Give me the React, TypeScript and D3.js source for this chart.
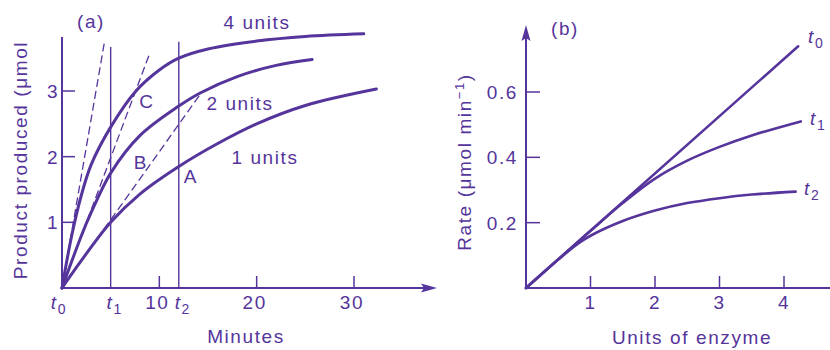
import * as d3 from "d3";

// panel (a): product vs time, three enzyme amounts
const minutes4 = [0, 1, 2, 3, 5, 7.6, 10, 12, 15, 20, 25, 31];
const product4 = [0, 0.8, 1.42, 1.88, 2.45, 3.0, 3.32, 3.5, 3.64, 3.76, 3.83, 3.87];
const minutes2 = [0, 2, 3, 5, 8, 12, 14.2, 18, 22, 25.7];
const product2 = [0, 0.8, 1.15, 1.75, 2.32, 2.77, 2.97, 3.22, 3.39, 3.48];
const minutes1 = [0, 2, 5, 8, 12, 16, 20, 25, 32.3];
const product1 = [0, 0.42, 1.0, 1.43, 1.85, 2.2, 2.5, 2.78, 3.03];

// initial-rate tangents (end points, all start at origin)
const tangentEndMin = [14.4, 9.0, 4.4];
const tangentEndVal = [2.99, 3.57, 3.78];

const timeMarks = [
  { label: "1", t: 5, top: 3.67 },
  { label: "2", t: 12, top: 3.75 },
];
const xTicksA = [10, 20, 30];
const yTicksA = [1, 2, 3];

// panel (b): rate vs units of enzyme
const unitsT0 = [0, 4.22];
const rateT0 = [0, 0.74];
const unitsT1 = [0, 1, 1.5, 2, 2.5, 3, 3.5, 4.26];
const rateT1 = [0, 0.175, 0.26, 0.335, 0.39, 0.432, 0.467, 0.51];
const unitsT2 = [0, 0.5, 0.8, 1, 1.5, 2, 2.5, 3, 3.5, 4.18];
const rateT2 = [0, 0.087, 0.135, 0.16, 0.205, 0.237, 0.26, 0.275, 0.286, 0.295];
const xTicksB = [1, 2, 3, 4];
const yTicksB = [0.2, 0.4, 0.6];

const ink = "#55349b";
const font = "'Liberation Sans', Arial, sans-serif";

const zip = (xs: number[], ys: number[]) => xs.map((x, i) => [x, ys[i]] as [number, number]);

function Sub({ main, sub }: { main: string; sub: string }) {
  return (
    <>
      <tspan fontStyle="italic">{main}</tspan>
      <tspan fontSize={14} dy={5}>{sub}</tspan>
    </>
  );
}

export default function App() {
  const xa = d3.scaleLinear().domain([0, 30]).range([62, 354]);
  const ya = d3.scaleLinear().domain([0, 3]).range([288, 91]);
  const xb = d3.scaleLinear().domain([0, 4]).range([526, 784]);
  const yb = d3.scaleLinear().domain([0, 0.6]).range([288, 92]);

  const lineA = d3.line<[number, number]>().x((d) => xa(d[0])).y((d) => ya(d[1])).curve(d3.curveCatmullRom.alpha(0.5));
  const lineB = d3.line<[number, number]>().x((d) => xb(d[0])).y((d) => yb(d[1])).curve(d3.curveCatmullRom.alpha(0.5));
  const straight = d3.line<[number, number]>().x((d) => xa(d[0])).y((d) => ya(d[1]));

  const txt = { fill: ink, fontFamily: font, fontSize: 19, letterSpacing: 1.6 } as const;

  return (
    <svg width={830} height={350} style={{ position: "absolute", left: 0, top: 0, background: "#fff" }}>
      {/* ---------- panel (a) ---------- */}
      <g>
        <line x1={xa(0)} y1={ya(0)} x2={xa(0)} y2={37} stroke={ink} strokeWidth={2} />
        <line x1={xa(0)} y1={ya(0)} x2={425} y2={ya(0)} stroke={ink} strokeWidth={2} />
        <path d={`M437,${ya(0)} L421,${ya(0) - 4.5} L424,${ya(0)} L421,${ya(0) + 4.5} Z`} fill={ink} />

        {yTicksA.map((v) => (
          <g key={v}>
            <line x1={xa(0)} x2={xa(0) + 13} y1={ya(v)} y2={ya(v)} stroke={ink} strokeWidth={1.5} />
            <text x={53} y={ya(v) + 7} textAnchor="middle" {...txt}>{v}</text>
          </g>
        ))}
        {xTicksA.map((v) => (
          <g key={v}>
            <line x1={xa(v)} x2={xa(v)} y1={ya(0)} y2={ya(0) - 12} stroke={ink} strokeWidth={1.5} />
            <text x={xa(v) - 2} y={309} textAnchor="middle" {...txt}>{v}</text>
          </g>
        ))}
        <text x={xa(0) - 3} y={309} textAnchor="middle" {...txt}><Sub main="t" sub="0" /></text>
        {timeMarks.map((m) => (
          <g key={m.label}>
            <line x1={xa(m.t)} x2={xa(m.t)} y1={ya(0)} y2={ya(m.top)} stroke={ink} strokeWidth={1.4} />
            <text x={xa(m.t) + 4} y={309} textAnchor="middle" {...txt}><Sub main="t" sub={m.label} /></text>
          </g>
        ))}

        {tangentEndMin.map((t, i) => (
          <path key={i} d={straight([[0, 0], [t, tangentEndVal[i]]]) ?? ""} fill="none" stroke={ink}
            strokeWidth={1.3} strokeDasharray="8,4" />
        ))}

        {[zip(minutes1, product1), zip(minutes2, product2), zip(minutes4, product4)].map((s, i) => (
          <path key={i} d={lineA(s) ?? ""} fill="none" stroke={ink} strokeWidth={3} strokeLinecap="round" />
        ))}

        <text x={91} y={28} textAnchor="middle" {...txt}>(a)</text>
        <text x={257} y={29} textAnchor="middle" {...txt}>4 units</text>
        <text x={240} y={110} textAnchor="middle" {...txt}>2 units</text>
        <text x={265} y={164} textAnchor="middle" {...txt}>1 units</text>
        <text x={147} y={108} textAnchor="middle" {...txt}>C</text>
        <text x={141} y={169} textAnchor="middle" {...txt}>B</text>
        <text x={191} y={183} textAnchor="middle" {...txt}>A</text>

        <text transform="translate(27,160) rotate(-90)" textAnchor="middle" {...txt}>
          Product produced (μmol
        </text>
        <text x={246} y={343} textAnchor="middle" {...txt}>Minutes</text>
      </g>

      {/* ---------- panel (b) ---------- */}
      <g>
        <line x1={xb(0)} y1={yb(0)} x2={xb(0)} y2={38} stroke={ink} strokeWidth={2} />
        <path d={`M${xb(0)},25 L${xb(0) - 4.5},41 L${xb(0)},38 L${xb(0) + 4.5},41 Z`} fill={ink} />
        <line x1={xb(0)} y1={yb(0)} x2={830} y2={yb(0)} stroke={ink} strokeWidth={2} />

        {yTicksB.map((v) => (
          <g key={v}>
            <line x1={xb(0)} x2={xb(0) + 14} y1={yb(v)} y2={yb(v)} stroke={ink} strokeWidth={1.5} />
            <text x={518} y={yb(v) + 7} textAnchor="end" {...txt}>{v.toFixed(1)}</text>
          </g>
        ))}
        {xTicksB.map((v) => (
          <g key={v}>
            <line x1={xb(v)} x2={xb(v)} y1={yb(0)} y2={yb(0) - 12} stroke={ink} strokeWidth={1.5} />
            <text x={xb(v)} y={309} textAnchor="middle" {...txt}>{v}</text>
          </g>
        ))}

        {[zip(unitsT0, rateT0), zip(unitsT1, rateT1), zip(unitsT2, rateT2)].map((s, i) => (
          <path key={i} d={lineB(s) ?? ""} fill="none" stroke={ink} strokeWidth={2.6} strokeLinecap="round" />
        ))}

        <text x={808} y={43} {...txt}><Sub main="t" sub="0" /></text>
        <text x={810} y={125} {...txt}><Sub main="t" sub="1" /></text>
        <text x={804} y={195} {...txt}><Sub main="t" sub="2" /></text>

        <text x={565} y={35} textAnchor="middle" {...txt}>(b)</text>
        <text transform="translate(471,162) rotate(-90)" textAnchor="middle" {...txt}>
          Rate (μmol min<tspan fontSize={13} dy={-7}>−1</tspan><tspan dy={7}>)</tspan>
        </text>
        <text x={692} y={344} textAnchor="middle" {...txt}>Units of enzyme</text>
      </g>
    </svg>
  );
}
